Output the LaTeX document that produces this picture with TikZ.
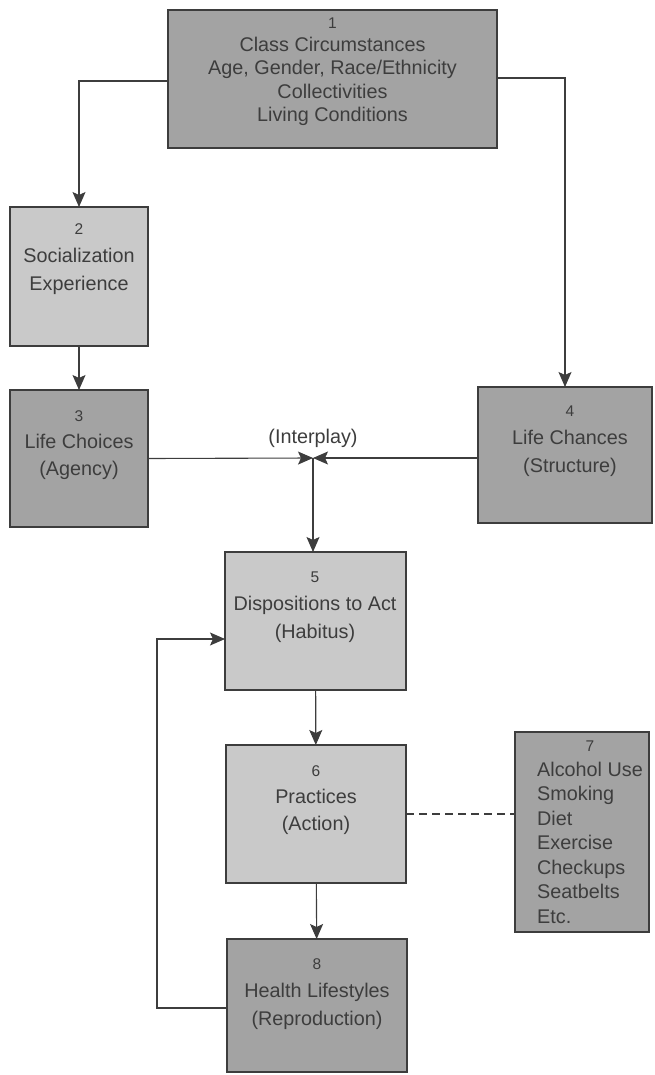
\documentclass[tikz,border=0pt]{standalone}
\usepackage{fontspec}
\setmainfont{Liberation Sans}
\usetikzlibrary{arrows.meta, positioning, calc}
\definecolor{darkfill}{gray}{0.64}
\definecolor{lightfill}{gray}{0.79}
\definecolor{inkgray}{gray}{0.24}
\newcommand{\boxnum}[1]{{\fontsize{15.5}{15.5}\selectfont #1}}

\begin{document}
\begin{tikzpicture}[x=1pt,y=-1pt,
  font=\fontsize{19.8}{28}\selectfont,
  boxdark/.style={draw=inkgray,line width=1.6pt,fill=darkfill,inner sep=0pt,outer sep=0pt},
  boxlight/.style={draw=inkgray,line width=1.6pt,fill=lightfill,inner sep=0pt,outer sep=0pt},
  boxtxt/.style={align=center,text=inkgray,inner sep=0pt},
  link/.style={draw=inkgray,line width=1.1pt},
  arr/.style={-{Stealth[length=15pt,width=13pt,inset=3pt]}}]

\useasboundingbox (0,0) rectangle (654,1075);

% --- Riquadri
\node[boxdark, minimum width=329pt, minimum height=138pt] (b1) at (332.5,79) {};
\node[boxlight, minimum width=138pt, minimum height=139pt] (b2) at (79,276.5) {};
\node[boxdark, minimum width=138pt, minimum height=137pt] (b3) at (79,458.5) {};
\node[boxdark, minimum width=174pt, minimum height=136pt] (b4) at (565,455) {};
\node[boxlight, minimum width=181pt, minimum height=138pt] (b5) at (315.5,621) {};
\node[boxlight, minimum width=180pt, minimum height=138pt] (b6) at (316,814) {};
\node[boxdark, minimum width=134pt, minimum height=200pt] (b7) at (582,832) {};
\node[boxdark, minimum width=180pt, minimum height=133pt] (b8) at (317,1005.5) {};

% --- Testi
\node[boxtxt, font=\fontsize{19.8}{23.3}\selectfont] (t1) at (332.5,71.5)
  {\boxnum{1}\\Class Circumstances\\Age, Gender, Race/Ethnicity\\Collectivities\\Living Conditions};
\node[boxtxt] (t2) at (79,259.5) {\boxnum{2}\\Socialization\\Experience};
\node[boxtxt, font=\fontsize{19.8}{27}\selectfont] (t3) at (79,445) {\boxnum{3}\\Life Choices\\(Agency)};
\node[boxtxt] (t4) at (570,441) {\boxnum{4}\\Life Chances\\(Structure)};
\node[boxtxt] (t5) at (315,607.5) {\boxnum{5}\\Dispositions to Act\\(Habitus)};
\node[boxtxt, font=\fontsize{19.8}{27}\selectfont] (t6) at (316,800) {\boxnum{6}\\Practices\\(Action)};
\node[boxtxt, font=\fontsize{19.8}{24.5}\selectfont] (t7) at (590,832.5)
  {\begin{tabular}{@{}l@{}}\multicolumn{1}{@{}c@{}}{\boxnum{7}}\\Alcohol Use\\Smoking\\Diet\\Exercise\\Checkups\\Seatbelts\\Etc.\end{tabular}};
\node[boxtxt] (t8) at (317,994) {\boxnum{8}\\Health Lifestyles\\(Reproduction)};

% --- Interplay
\coordinate (ip) at (313,458);
\node[boxtxt] (lbl) at (313,438) {(Interplay)};

% --- Frecce
\draw[link,arr] ($(b1.west)+(0,2)$) -| (b2.north);
\draw[link,arr] ($(b1.east)+(0,-1)$) -| (b4.north);
\draw[link,arr] (b2) -- (b3);
\draw[link,arr] (b3.east) -- (ip);
\draw[link,arr] (ip -| b4.west) -- (ip);
\draw[link,arr] (ip) -- (ip |- b5.north);
\draw[link,arr] (b5) -- (b6);
\draw[link,arr] (b6) -- (b8);
\draw[link,arr] ($(b8.west)+(0,2.5)$) -- ++(-70,0) |- ($(b5.west)+(0,18)$);
\draw[link,dash pattern=on 8pt off 5pt] (b6.east) -- (b6.east -| b7.west);

\end{tikzpicture}
\end{document}
